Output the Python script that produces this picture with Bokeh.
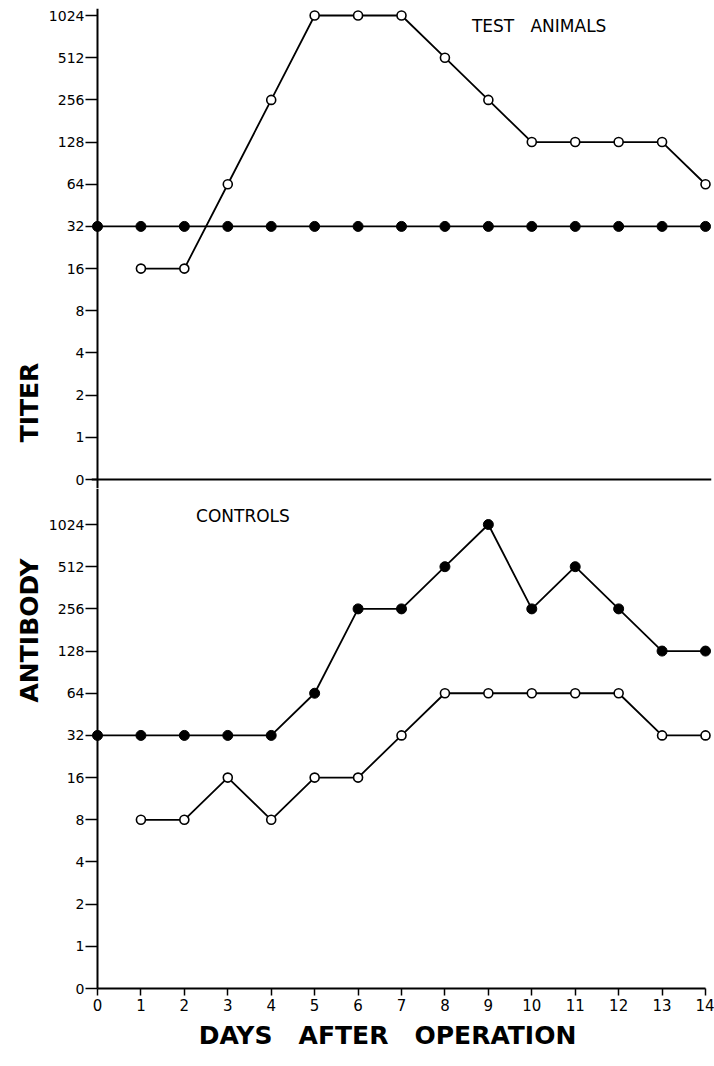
import math
from bokeh.plotting import figure
from bokeh.models import Range1d, FixedTicker, Label, Span
from bokeh.layouts import column, row
from bokeh.embed import file_html
from bokeh.resources import INLINE

# ---------------- data ----------------
days = [0, 1, 2, 3, 4, 5, 6, 7, 8, 9, 10, 11, 12, 13, 14]
days_from_1 = [1, 2, 3, 4, 5, 6, 7, 8, 9, 10, 11, 12, 13, 14]

test_open_titer = [16, 16, 64, 256, 1024, 1024, 1024, 512, 256, 128, 128, 128, 128, 64]
test_filled_titer = [32, 32, 32, 32, 32, 32, 32, 32, 32, 32, 32, 32, 32, 32, 32]

control_filled_titer = [32, 32, 32, 32, 32, 64, 256, 256, 512, 1024, 256, 512, 256, 128, 128]
control_open_titer = [8, 8, 16, 8, 16, 16, 32, 64, 64, 64, 64, 64, 32, 32]

y_tick_values = [0.5, 1, 2, 4, 8, 16, 32, 64, 128, 256, 512, 1024]
y_tick_labels = ["0", "1", "2", "4", "8", "16", "32", "64", "128", "256", "512", "1024"]
x_tick_values = [0, 1, 2, 3, 4, 5, 6, 7, 8, 9, 10, 11, 12, 13, 14]
x_tick_labels = ["0", "1", "2", "3", "4", "5", "6", "7", "8", "9", "10", "11", "12", "13", "14"]

# ---------------- style ----------------
FONT = "DejaVu Sans"
PX = 42.18            # pixels per doubling of titer
FRAME_W = 620
X_START, X_END = -0.138, 14.138
LEFT_W = 44           # strip holding the vertical axis title
MAIN_W = 714 - LEFT_W
BORDER_LEFT = 47
LINE_W = 1.8


def base_fig(frame_h, y_start, y_end, border_top, border_bottom, x_axis_loc):
    p = figure(width=MAIN_W, frame_width=FRAME_W, frame_height=frame_h,
               x_range=Range1d(X_START, X_END), y_range=Range1d(y_start, y_end),
               y_axis_type="log", x_axis_location=x_axis_loc,
               output_backend="svg", toolbar_location=None,
               min_border_left=BORDER_LEFT, min_border_right=3,
               min_border_top=border_top, min_border_bottom=border_bottom,
               outline_line_color=None,
               background_fill_color="white", border_fill_color="white")
    p.xgrid.visible = False
    p.ygrid.visible = False
    ya = p.yaxis[0]
    ya.ticker = FixedTicker(ticks=y_tick_values)
    ya.major_label_overrides = dict(zip(y_tick_values, y_tick_labels))
    ya.axis_line_color = None
    ya.major_tick_out = 6
    ya.major_tick_in = 6
    ya.minor_tick_out = 0
    ya.minor_tick_in = 0
    ya.major_label_standoff = 1
    ya.major_tick_line_width = 1.5
    ya.major_tick_line_color = "black"
    ya.major_label_text_font = FONT
    ya.major_label_text_font_size = "14px"
    ya.major_label_text_color = "black"
    # vertical axis line at day 0
    p.add_layout(Span(location=0, dimension="height", line_color="black",
                      line_width=2))
    return p


def draw_series(p, xs, ys, filled):
    p.line(xs, ys, line_color="black", line_width=LINE_W)
    if filled:
        p.scatter(xs, ys, marker="circle", size=10, fill_color="black",
                  line_color="black", line_width=1)
    else:
        p.scatter(xs, ys, marker="circle", size=9, fill_color="white",
                  line_color="black", line_width=1.6)


# ---------------- top panel: test animals ----------------
# frame spans y = 8 .. 488 px; titer "0" (0.5 on log2 axis) sits at 479 px
top = base_fig(480, 0.5 * 2 ** (-9 / PX), 0.5 * 2 ** (471 / PX), 8, 0, None)
top.add_layout(Span(location=0.5, dimension="width", line_color="black",
                    line_width=2))

draw_series(top, days, test_filled_titer, True)
draw_series(top, days_from_1, test_open_titer, False)

top.add_layout(Label(x=10.17, y=867, text="TEST\u00a0\u00a0\u00a0ANIMALS",
                     text_font=FONT, text_font_size="17px", text_align="center",
                     text_baseline="middle", text_color="black"))

# ---------------- bottom panel: controls ----------------
# frame spans y = 488 .. 988 px
bottom = base_fig(500, 0.5, 0.5 * 2 ** (500 / PX), 0, 32, "below")
xb = bottom.xaxis[0]
xb.ticker = FixedTicker(ticks=x_tick_values)
xb.major_label_overrides = dict(zip(x_tick_values, x_tick_labels))
xb.bounds = (0, 14)
xb.major_tick_out = 7
xb.major_tick_in = 0
xb.minor_tick_out = 0
xb.minor_tick_in = 0
xb.major_label_standoff = 3
xb.axis_line_width = 2
xb.axis_line_color = "black"
xb.major_tick_line_width = 1.5
xb.major_tick_line_color = "black"
xb.major_label_text_font = FONT
xb.major_label_text_font_size = "15px"
xb.major_label_text_color = "black"

draw_series(bottom, days, control_filled_titer, True)
draw_series(bottom, days_from_1, control_open_titer, False)

bottom.add_layout(Label(x=3.35, y=1185, text="CONTROLS", text_font=FONT,
                        text_font_size="17px", text_align="center",
                        text_baseline="middle", text_color="black"))

# ---------------- axis titles ----------------
left = figure(width=LEFT_W, height=1020, x_range=Range1d(0, LEFT_W),
              y_range=Range1d(0, 1020), x_axis_location=None,
              y_axis_location=None, output_backend="svg",
              toolbar_location=None, min_border=0, outline_line_color=None,
              background_fill_color="white", border_fill_color="white")
left.grid.visible = False
left.add_layout(Label(x=29, y=1020 - 402, text="TITER", text_font=FONT,
                      text_font_size="25px", text_font_style="bold",
                      angle=math.pi / 2, text_align="center",
                      text_baseline="middle", text_color="black"))
left.add_layout(Label(x=29, y=1020 - 630, text="ANTIBODY", text_font=FONT,
                      text_font_size="25px", text_font_style="bold",
                      angle=math.pi / 2, text_align="center",
                      text_baseline="middle", text_color="black"))

foot = figure(width=714, height=46, x_range=Range1d(0, 714),
              y_range=Range1d(0, 46), x_axis_location=None,
              y_axis_location=None, output_backend="svg",
              toolbar_location=None, min_border=0, outline_line_color=None,
              background_fill_color="white", border_fill_color="white")
foot.grid.visible = False
foot.add_layout(Label(x=387, y=31,
                      text="DAYS\u00a0\u00a0\u00a0AFTER\u00a0\u00a0\u00a0OPERATION",
                      text_font=FONT, text_font_size="25px",
                      text_font_style="bold", text_align="center",
                      text_baseline="middle", text_color="black"))

layout = column(row(left, column(top, bottom, spacing=0), spacing=0), foot,
                spacing=0)
open("out.html", "w").write(file_html(layout, INLINE))
